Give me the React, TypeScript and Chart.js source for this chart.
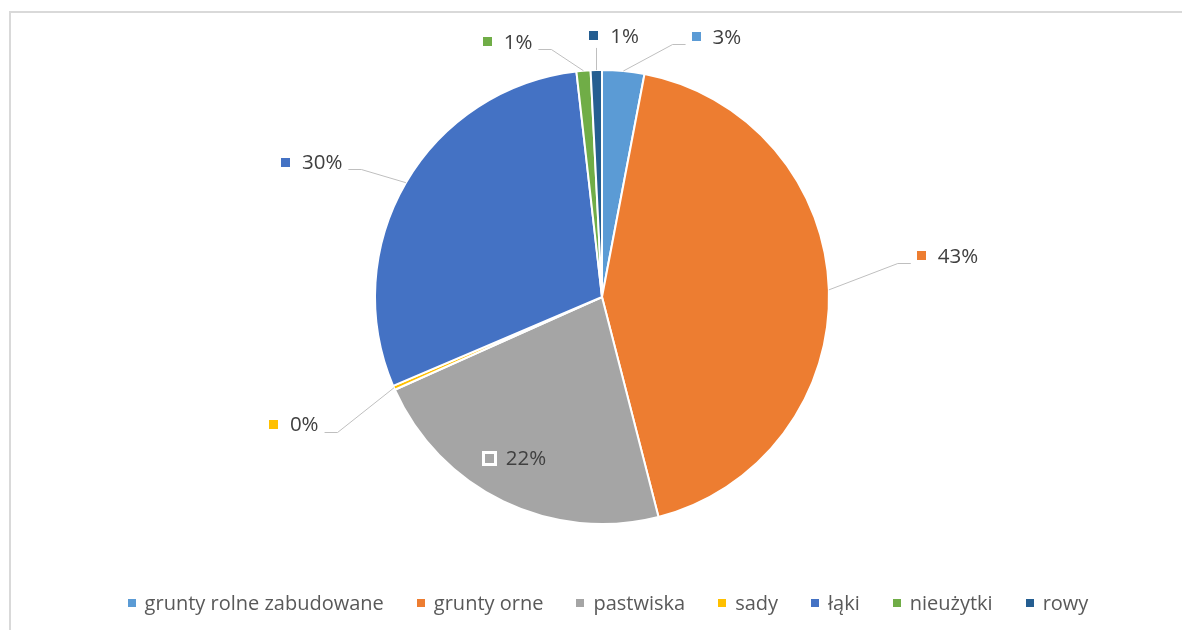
import React, { useEffect, useRef } from 'react';
import { Chart, registerables } from 'chart.js';

Chart.register(...registerables);

const categories = ['grunty rolne zabudowane', 'grunty orne', 'pastwiska', 'sady', 'łąki', 'nieużytki', 'rowy'];
const shares = [3.0, 43.0, 22.3, 0.3, 29.6, 1.0, 0.8];
const colors = ['#5B9BD5', '#ED7D31', '#A5A5A5', '#FFC000', '#4472C4', '#70AD47', '#255E91'];

// data-label placement relative to pie centre, in units of the pie radius
const labelDX = [0.504, 1.522, -0.381, -1.358, -1.279, -0.416, 0.053];
const labelDY = [-1.146, -0.181, 0.712, 0.562, -0.593, -1.124, -1.15];
const labelInside = [false, false, true, false, false, false, false];

const FONT = '"Open Sans", "Noto Sans", sans-serif';
const LABEL_SIZE = 20.5;
const LEGEND_SIZE = 20;

const pieLabels = {
  id: 'pieLabels',
  afterDatasetsDraw(chart: any) {
    const ctx: CanvasRenderingContext2D = chart.ctx;
    const meta = chart.getDatasetMeta(0);
    const data = chart.data.datasets[0].data as number[];
    const total = data.reduce((a, b) => a + b, 0);
    ctx.save();
    ctx.font = `${LABEL_SIZE}px ${FONT}`;
    ctx.textBaseline = 'middle';
    ctx.textAlign = 'left';
    meta.data.forEach((arc: any, i: number) => {
      const { x, y, startAngle, endAngle, outerRadius } = arc.getProps(
        ['x', 'y', 'startAngle', 'endAngle', 'outerRadius'],
        true
      );
      const mid = (startAngle + endAngle) / 2;
      const ex = x + Math.cos(mid) * outerRadius;
      const ey = y + Math.sin(mid) * outerRadius;
      const text = Math.round((data[i] / total) * 100) + '%';
      const tw = ctx.measureText(text).width;
      const box = 9;
      const gap = 12;
      const w = box + gap + tw;
      const cx = x + labelDX[i] * outerRadius;
      const cy = y + labelDY[i] * outerRadius;
      const left = cx - w / 2;
      if (!labelInside[i]) {
        const pad = 6;
        const elbow = 13;
        const bl = left - pad;
        const br = left + w + pad;
        const bb = cy + 12;
        const ay = Math.round(cy + 7) + 0.5;
        ctx.strokeStyle = '#BFBFBF';
        ctx.lineWidth = 1;
        ctx.beginPath();
        if (ex < bl) {
          ctx.moveTo(bl, ay);
          ctx.lineTo(bl - elbow, ay);
          ctx.lineTo(ex, ey);
        } else if (ex > br) {
          ctx.moveTo(br, ay);
          ctx.lineTo(br + elbow, ay);
          ctx.lineTo(ex, ey);
        } else {
          const vx = Math.round(ex) + 0.5;
          ctx.moveTo(vx, bb);
          ctx.lineTo(vx, ey);
        }
        ctx.stroke();
      }
      const mx = Math.round(left);
      const my = Math.round(cy - box / 2);
      ctx.fillStyle = '#FFFFFF';
      ctx.fillRect(mx - 3, my - 3, box + 6, box + 6);
      ctx.fillStyle = colors[i];
      ctx.fillRect(mx, my, box, box);
      ctx.fillStyle = '#404040';
      ctx.fillText(text, left + box + gap, cy + 1);
    });
    ctx.restore();
  },
};

const bottomLegend = {
  id: 'bottomLegend',
  afterDraw(chart: any) {
    const ctx: CanvasRenderingContext2D = chart.ctx;
    const labels = chart.data.labels as string[];
    const bg = chart.data.datasets[0].backgroundColor as string[];
    ctx.save();
    ctx.font = `${LEGEND_SIZE}px ${FONT}`;
    ctx.textBaseline = 'middle';
    ctx.textAlign = 'left';
    const box = 8;
    const gapText = 9;
    const gapItem = 33;
    const widths = labels.map((l) => box + gapText + ctx.measureText(l).width);
    const totalW = widths.reduce((a, b) => a + b, 0) + gapItem * (labels.length - 1);
    const area = chart.chartArea;
    const centerX = (area.left + area.right) / 2 + 6;
    const yMid = chart.height - 27;
    let xPos = centerX - totalW / 2;
    labels.forEach((l, i) => {
      ctx.fillStyle = bg[i];
      ctx.fillRect(Math.round(xPos), Math.round(yMid - box / 2), box, box);
      ctx.fillStyle = '#595959';
      ctx.fillText(l, xPos + box + gapText, yMid + 1);
      xPos += widths[i] + gapItem;
    });
    ctx.restore();
  },
};

export default function App() {
  const ref = useRef<HTMLCanvasElement | null>(null);
  useEffect(() => {
    if (!ref.current) return;
    const chart = new Chart(ref.current, {
      type: 'pie',
      data: {
        labels: categories,
        datasets: [
          {
            data: shares,
            backgroundColor: colors,
            borderColor: '#FFFFFF',
            borderWidth: 2,
          },
        ],
      },
      options: {
        responsive: false,
        animation: false,
        devicePixelRatio: 1,
        radius: 227,
        layout: { padding: { left: 22, right: 0, top: 0, bottom: 36 } },
        plugins: {
          legend: { display: false },
          tooltip: { enabled: false },
          title: { display: false },
        },
      },
      plugins: [pieLabels, bottomLegend],
    });
    return () => chart.destroy();
  }, []);

  return (
    <div style={{ position: 'fixed', left: 0, top: 0, width: 1182, height: 630, background: '#FFFFFF', overflow: 'hidden' }}>
      <div
        style={{
          position: 'absolute',
          left: 9,
          top: 11,
          width: 1300,
          height: 800,
          borderTop: '2px solid #D9D9D9',
          borderLeft: '2px solid #D9D9D9',
        }}
      />
      <canvas ref={ref} width={1182} height={630} style={{ position: 'absolute', left: 0, top: 0, width: 1182, height: 630 }} />
    </div>
  );
}
